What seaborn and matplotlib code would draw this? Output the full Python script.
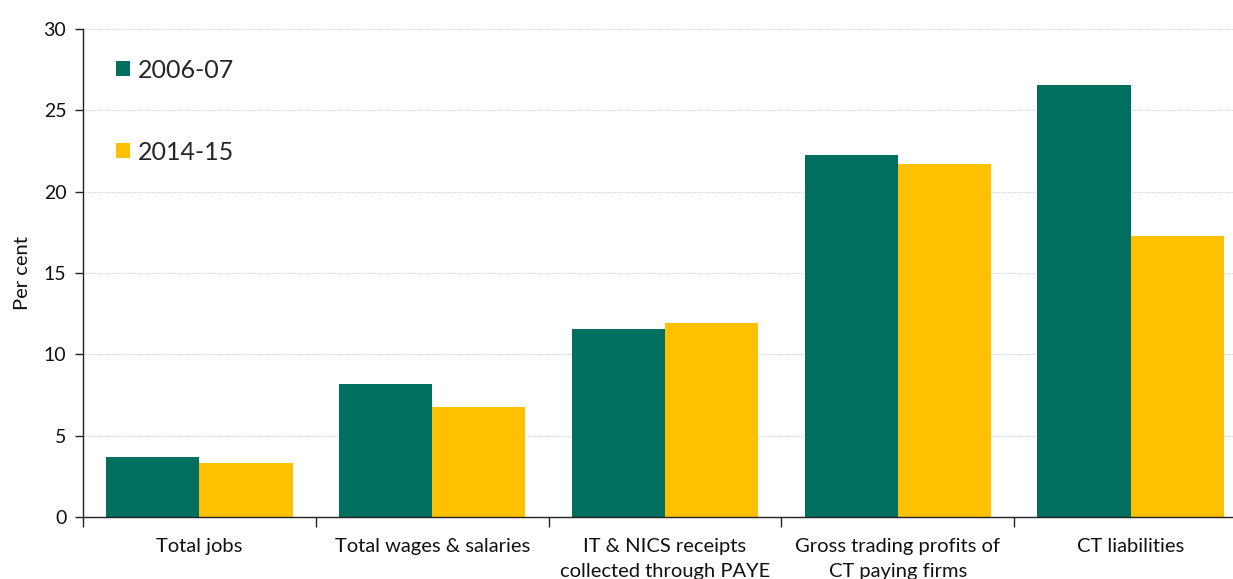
import matplotlib
matplotlib.use("Agg")
import matplotlib.pyplot as plt
import seaborn as sns
import pandas as pd
from matplotlib.patches import Patch

categories = ["Total jobs", "Total wages & salaries",
              "IT & NICS receipts\ncollected through PAYE",
              "Gross trading profits of\nCT paying firms", "CT liabilities"]
series_names = ["2006-07", "2014-15"]
values_2006 = [3.7, 8.2, 11.55, 22.25, 26.55]
values_2014 = [3.35, 6.75, 11.95, 21.7, 17.25]
colors = ["#006F60", "#FFC000"]

df = pd.DataFrame({
    "cat": categories * 2,
    "series": [series_names[0]] * 5 + [series_names[1]] * 5,
    "val": values_2006 + values_2014,
})

sns.set_style("white")
plt.rcParams["font.family"] = ["Lato", "DejaVu Sans"]

fig = plt.figure(figsize=(12.33, 5.79), dpi=100)
ax = fig.add_axes([83 / 1233, 1 - 517 / 579, 1 - 83 / 1233 + 14 / 1233, (517 - 29) / 579])

sns.barplot(data=df, x="cat", y="val", hue="series", order=categories,
            hue_order=series_names, palette=colors, width=0.8, linewidth=0,
            saturation=1, ax=ax, legend=False)

ax.set_ylim(0, 30)
ax.set_xlim(-0.5, 4.5)
ax.set_yticks([0, 5, 10, 15, 20, 25, 30])
for y in [5, 10, 15, 20, 25, 30]:
    ax.axhline(y, color="#cfcfcf", lw=0.8, ls=(0, (1, 1)), zorder=0)
ax.set_axisbelow(True)

for s in ["top", "right"]:
    ax.spines[s].set_visible(False)
ax.spines["left"].set_color("#222222")
ax.spines["bottom"].set_color("#222222")
ax.spines["left"].set_linewidth(1.0)
ax.spines["bottom"].set_linewidth(1.0)

ax.tick_params(axis="y", which="major", direction="out", length=6, width=1,
               color="#222222", labelsize=14, pad=6, left=True, labelcolor="#111111")
ax.tick_params(axis="x", which="major", length=0, labelsize=14.5, pad=15,
               labelcolor="#111111")
ax.set_xticks(range(len(categories)))
ax.set_xticklabels(categories, linespacing=1.55)
ax.set_xticks([-0.5, 0.5, 1.5, 2.5, 3.5], minor=True)
ax.tick_params(axis="x", which="minor", direction="out", length=7, width=1,
               color="#222222", bottom=True)

ax.set_xlabel("")
ax.set_ylabel("Per cent", fontsize=14.5, labelpad=9, color="#111111")

handles = [Patch(facecolor=c, edgecolor="none") for c in colors]
ax.legend(handles, series_names, loc="upper left", bbox_to_anchor=(0.02, 0.96),
          frameon=False, fontsize=18, handlelength=0.56, handleheight=0.56,
          handletextpad=0.3, labelspacing=2.36, borderaxespad=0)

fig.savefig("out.png", dpi=100)
